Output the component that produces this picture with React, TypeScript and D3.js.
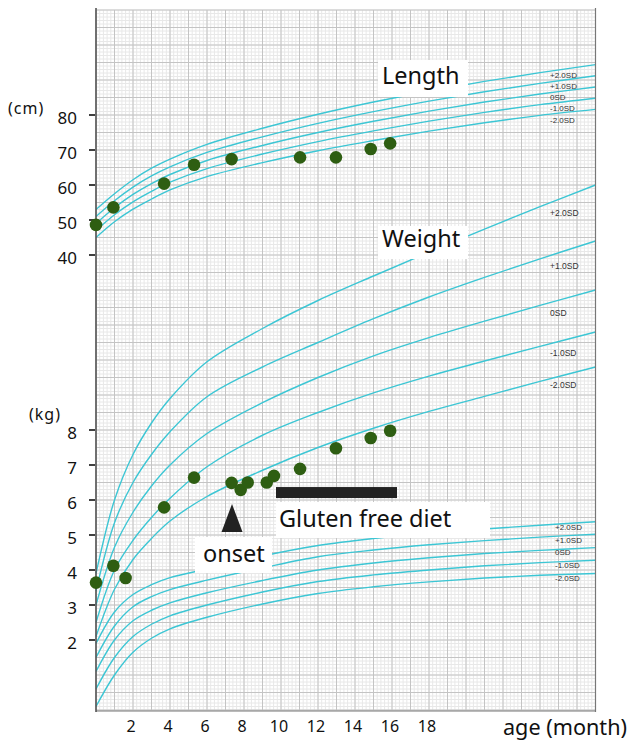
import React, { useEffect, useRef } from 'react';
import * as d3 from 'd3';

// reference ages (months) for the standard curves
const curveAges = [0, 1, 2, 3, 4, 6, 9, 12, 15, 18, 21, 24, 27];

// length standards (cm)
const lengthP2 = [53.0, 57.5, 61.5, 64.8, 67.4, 71.6, 76.2, 80.2, 83.7, 86.8, 89.6, 92.1, 94.4];
const lengthP1 = [51.0, 55.5, 59.4, 62.6, 65.2, 69.3, 73.75, 77.6, 80.95, 83.95, 86.65, 89.05, 91.2];
const length0 = [49.0, 53.5, 57.3, 60.4, 63.0, 67.0, 71.3, 75.0, 78.2, 81.1, 83.7, 86.0, 88.0];
const lengthM1 = [47.0, 51.5, 55.2, 58.2, 60.8, 64.7, 68.85, 72.4, 75.45, 78.25, 80.75, 82.95, 84.8];
const lengthM2 = [45.0, 49.5, 53.1, 56.0, 58.6, 62.4, 66.4, 69.8, 72.7, 75.4, 77.8, 79.9, 81.6];

// weight standards (kg)
const weightP2 = [3.9, 6.0, 7.3, 8.2, 8.9, 9.95, 10.9, 11.7, 12.4, 13.08, 13.74, 14.38, 15.0];
const weightP1 = [3.4, 5.35, 6.5, 7.3, 7.95, 8.95, 9.8, 10.5, 11.18, 11.8, 12.36, 12.89, 13.4];
const weight0 = [3.0, 4.65, 5.65, 6.4, 7.0, 7.9, 8.78, 9.5, 10.12, 10.64, 11.11, 11.56, 12.0];
const weightM1 = [2.5, 4.0, 4.85, 5.5, 6.05, 6.95, 7.85, 8.5, 9.06, 9.54, 9.97, 10.39, 10.8];
const weightM2 = [2.1, 3.45, 4.3, 4.9, 5.4, 6.1, 6.85, 7.5, 8.05, 8.53, 8.96, 9.39, 9.8];

// lower band of curves (read on the kg scale)
const lowerP2 = [1.9, 2.8, 3.3, 3.58, 3.78, 4.03, 4.4, 4.7, 4.9, 5.05, 5.17, 5.28, 5.38];
const lowerP1 = [1.5, 2.4, 2.95, 3.24, 3.44, 3.71, 4.06, 4.38, 4.57, 4.72, 4.84, 4.94, 5.02];
const lower0 = [1.1, 2.0, 2.55, 2.85, 3.06, 3.35, 3.7, 4.0, 4.2, 4.35, 4.47, 4.56, 4.64];
const lowerM1 = [0.6, 1.5, 2.1, 2.45, 2.69, 3.0, 3.37, 3.67, 3.86, 4.0, 4.12, 4.21, 4.28];
const lowerM2 = [0.1, 1.0, 1.65, 2.05, 2.32, 2.65, 3.03, 3.33, 3.52, 3.66, 3.77, 3.85, 3.9];

const sdLabels = ['+2.0SD', '+1.0SD', '0SD', '-1.0SD', '-2.0SD'];

// patient measurements
const lengthAges = [0, 0.94, 3.68, 5.3, 7.33, 11.03, 12.97, 14.85, 15.9];
const lengthValues = [48.6, 53.6, 60.4, 65.8, 67.4, 67.9, 67.9, 70.3, 71.9];
const weightAges = [0, 0.94, 1.6, 3.68, 5.3, 7.33, 7.82, 8.2, 9.23, 9.62, 11.03, 12.97, 14.85, 15.9];
const weightValues = [3.64, 4.12, 3.77, 5.79, 6.64, 6.49, 6.29, 6.5, 6.5, 6.69, 6.89, 7.48, 7.77, 7.98];

const lengthTicks = [40, 50, 60, 70, 80];
const weightTicks = [2, 3, 4, 5, 6, 7, 8];
const ageTicks = [2, 4, 6, 8, 10, 12, 14, 16, 18];

const onsetAge = 7.35;
const dietStart = 9.73;
const dietEnd = 16.27;

const W = 630;
const H = 740;
const FONT = '"Noto Sans", sans-serif';
const CYAN = '#3cc6d4';

const App = () => {
  const svgRef = useRef<SVGSVGElement>(null);

  useEffect(() => {
    const svg = d3.select(svgRef.current);
    svg.selectAll('*').remove();

    const x = d3.scaleLinear().domain([0, 27]).range([96, 595.5]);
    const yW = d3.scaleLinear().domain([0, 20]).range([710, 10]);
    const yL = d3.scaleLinear().domain([40, 80]).range([255, 115]);

    const left = x(0), right = x(27), top = yW(20), bottom = yW(0);

    // grid: minor first, majors over them
    const grid = svg.append('g');
    d3.range(0, 27.01, 0.2).forEach(a => {
      grid.append('line')
        .attr('x1', x(a)).attr('x2', x(a)).attr('y1', top).attr('y2', bottom)
        .attr('stroke', '#e8e8e8');
    });
    d3.range(0, 20.01, 0.1).forEach(v => {
      grid.append('line')
        .attr('x1', left).attr('x2', right).attr('y1', yW(v)).attr('y2', yW(v))
        .attr('stroke', '#e8e8e8');
    });
    d3.range(0, 27.01, 1).forEach(a => {
      grid.append('line')
        .attr('x1', x(a)).attr('x2', x(a)).attr('y1', top).attr('y2', bottom)
        .attr('stroke', '#c4c4c4');
    });
    d3.range(0, 20.01, 0.5).forEach(v => {
      grid.append('line')
        .attr('x1', left).attr('x2', right).attr('y1', yW(v)).attr('y2', yW(v))
        .attr('stroke', '#c4c4c4');
    });

    // standard curves
    const groups = [
      { y: yL, sets: [lengthP2, lengthP1, length0, lengthM1, lengthM2] },
      { y: yW, sets: [weightP2, weightP1, weight0, weightM1, weightM2] },
      { y: yW, sets: [lowerP2, lowerP1, lower0, lowerM1, lowerM2] },
    ];
    groups.forEach(g => {
      const line = d3.line<number>()
        .x((_, i) => x(curveAges[i]))
        .y(d => g.y(d))
        .curve(d3.curveCatmullRom.alpha(0.5));
      g.sets.forEach(s => {
        svg.append('path')
          .attr('d', line(s))
          .attr('fill', 'none')
          .attr('stroke', CYAN)
          .attr('stroke-width', 1.4);
      });
    });

    // SD labels
    const sdLabel = (ys: number[], lx: number, size: number) => {
      sdLabels.forEach((t, i) => {
        svg.append('text')
          .attr('x', lx).attr('y', ys[i])
          .attr('dy', '0.35em')
          .attr('font-family', 'Arial, "Liberation Sans", sans-serif')
          .attr('font-size', size)
          .attr('fill', '#333')
          .text(t);
      });
    };
    sdLabel([75, 86, 97, 108.5, 120], 550, 8);
    sdLabel([213, 266, 313, 353, 385], 550, 8.5);
    sdLabel([527, 540, 552.5, 565.5, 578.5], 555, 8);

    // frame
    svg.append('line').attr('x1', right).attr('x2', right).attr('y1', top - 2).attr('y2', bottom + 2)
      .attr('stroke', '#777').attr('stroke-width', 1.2);
    svg.append('line').attr('x1', left).attr('x2', right).attr('y1', bottom + 1).attr('y2', bottom + 1)
      .attr('stroke', '#777').attr('stroke-width', 1.2);
    svg.append('line').attr('x1', left).attr('x2', left).attr('y1', top - 2).attr('y2', bottom + 2)
      .attr('stroke', '#555').attr('stroke-width', 1.6);

    // left ticks
    const tickMark = (yy: number) => svg.append('line')
      .attr('x1', 89).attr('x2', 95).attr('y1', yy).attr('y2', yy)
      .attr('stroke', '#111').attr('stroke-width', 1.6);
    const tickText = (yy: number, t: string) => svg.append('text')
      .attr('x', 77).attr('y', yy + 3)
      .attr('dy', '0.35em').attr('text-anchor', 'end')
      .attr('font-family', FONT).attr('font-size', 17).attr('fill', '#111')
      .text(t);
    lengthTicks.forEach(v => { tickMark(yL(v)); tickText(yL(v), String(v)); });
    weightTicks.forEach(v => { tickMark(yW(v)); tickText(yW(v), String(v)); });

    svg.append('text').attr('x', 8).attr('y', 114)
      .attr('font-family', FONT).attr('font-size', 16).attr('letter-spacing', 1).attr('fill', '#111')
      .text('(cm)');
    svg.append('text').attr('x', 29).attr('y', 420)
      .attr('font-family', FONT).attr('font-size', 16).attr('letter-spacing', 1).attr('fill', '#111')
      .text('(kg)');

    // bottom ticks
    ageTicks.forEach(a => {
      svg.append('text')
        .attr('x', x(a) - 2).attr('y', 732)
        .attr('text-anchor', 'middle')
        .attr('font-family', FONT).attr('font-size', 16).attr('fill', '#111')
        .text(String(a));
    });
    svg.append('text').attr('x', 503).attr('y', 735)
      .attr('font-family', FONT).attr('font-size', 21).attr('fill', '#111')
      .attr('textLength', 124).attr('lengthAdjust', 'spacingAndGlyphs')
      .text('age (month)');

    // labelled white boxes
    const box = (bx: number, by: number, bw: number, bh: number, t: string, tx: number, ty: number) => {
      svg.append('rect').attr('x', bx).attr('y', by).attr('width', bw).attr('height', bh).attr('fill', '#fff');
      svg.append('text').attr('x', tx).attr('y', ty)
        .attr('font-family', FONT).attr('font-size', 23.5).attr('fill', '#111')
        .text(t);
    };
    box(378, 60, 90, 37, 'Length', 382, 84);
    box(378, 226, 90, 33, 'Weight', 382, 247);
    box(276, 502, 214, 36, 'Gluten free diet', 279, 527);
    box(195, 537, 77, 36, 'onset', 203, 562);

    // diet bar
    svg.append('rect')
      .attr('x', x(dietStart)).attr('y', yW(6.37))
      .attr('width', x(dietEnd) - x(dietStart)).attr('height', 11)
      .attr('fill', '#222');

    // onset arrow
    const ox = x(onsetAge);
    svg.append('path')
      .attr('d', `M${ox},504 L${ox - 10.5},532 L${ox + 10.5},532 Z`)
      .attr('fill', '#222');

    // measurement dots
    const dots = svg.append('g').attr('fill', '#2e5e12');
    lengthAges.forEach((a, i) => {
      dots.append('circle').attr('cx', x(a)).attr('cy', yL(lengthValues[i])).attr('r', 6.3);
    });
    weightAges.forEach((a, i) => {
      dots.append('circle').attr('cx', x(a)).attr('cy', yW(weightValues[i])).attr('r', 6.3);
    });
  }, []);

  return (
    <div style={{ position: 'absolute', left: 0, top: 0, width: W, height: H, background: '#fff' }}>
      <svg ref={svgRef} width={W} height={H} style={{ display: 'block' }} />
    </div>
  );
};

export default App;
